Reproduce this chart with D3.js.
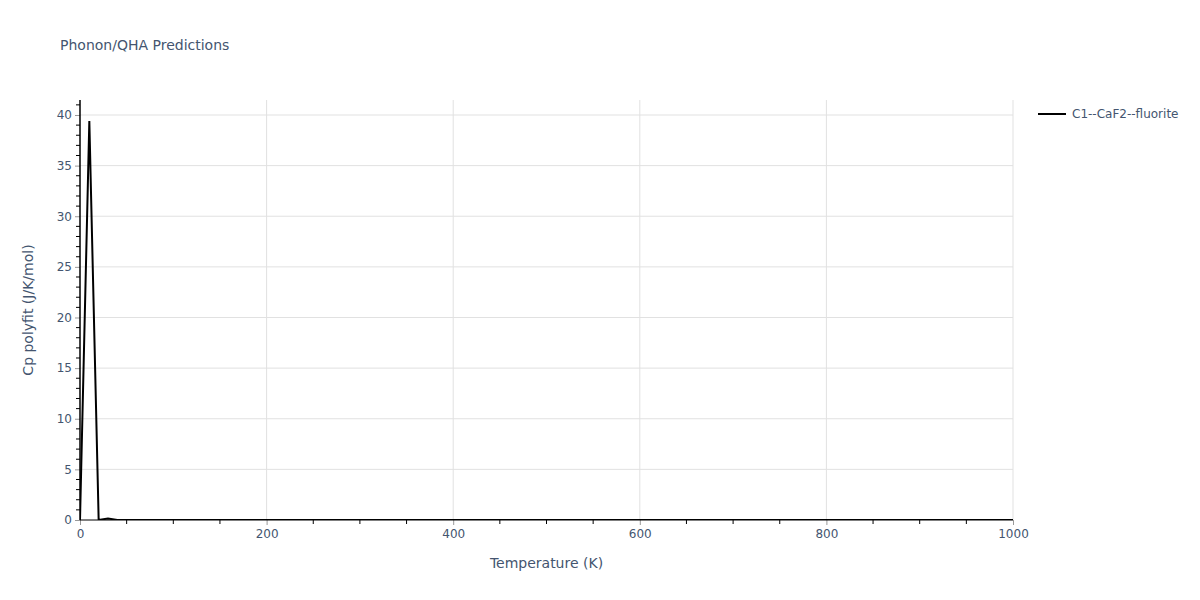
<!DOCTYPE html>
<html><head><meta charset="utf-8">
<script src="https://cdn.jsdelivr.net/npm/d3@7"></script>
<style>body{margin:0;background:#fff;} svg{display:block;}</style>
</head><body>
<svg id="c" width="1200" height="600"></svg>
<script>
const temps = [0, 10, 20, 30, 40, 50, 100, 200, 300, 400, 500, 600, 700, 800, 900, 1000];
const cpValues = [0, 39.4, 0, 0.15, 0, 0, 0, 0, 0, 0, 0, 0, 0, 0, 0, 0];
const seriesName = "C1--CaF2--fluorite";
const xTicks = [0, 200, 400, 600, 800, 1000];
const yTicks = [0, 5, 10, 15, 20, 25, 30, 35, 40];

const svg = d3.select("#c");
const L = 80, R = 1013, T = 100, B = 520;
const x = d3.scaleLinear().domain([0, 1000]).range([L, R]);
const y = d3.scaleLinear().domain([0, 41.48]).range([B, T]);
const font = "'DejaVu Sans', Verdana, sans-serif";
const txt = "#44556f";

svg.append("defs").append("clipPath").attr("id", "clip").append("rect")
  .attr("x", L).attr("y", T).attr("width", R - L).attr("height", B - T);

// gridlines
svg.append("g").selectAll("line").data(xTicks.filter(d => d > 0)).join("line")
  .attr("x1", d => x(d)).attr("x2", d => x(d)).attr("y1", T).attr("y2", B)
  .attr("stroke", "#e1e1e1").attr("stroke-width", 1);
svg.append("g").selectAll("line").data(yTicks.filter(d => d > 0)).join("line")
  .attr("x1", L).attr("x2", R).attr("y1", d => y(d)).attr("y2", d => y(d))
  .attr("stroke", "#e1e1e1").attr("stroke-width", 1);

// data line
const line = d3.line().x((d, i) => x(temps[i])).y(d => y(d));
svg.append("path").datum(cpValues).attr("d", line).attr("clip-path", "url(#clip)")
  .attr("fill", "none").attr("stroke", "#000").attr("stroke-width", 2);

// minor ticks
const xMinor = d3.range(50, 1000, 50).filter(d => d % 200 !== 0);
svg.append("g").selectAll("line").data(xMinor).join("line")
  .attr("x1", d => x(d)).attr("x2", d => x(d)).attr("y1", B).attr("y2", B + 4)
  .attr("stroke", "#000").attr("stroke-width", 1);
const yMinor = d3.range(1, 42, 1).filter(d => d % 5 !== 0);
svg.append("g").selectAll("line").data(yMinor).join("line")
  .attr("x1", L - 4).attr("x2", L).attr("y1", d => y(d)).attr("y2", d => y(d))
  .attr("stroke", "#000").attr("stroke-width", 1);

// axes with major ticks
const xAxis = svg.append("g").attr("transform", `translate(0,${B})`)
  .call(d3.axisBottom(x).tickValues(xTicks).tickSize(5).tickFormat(d3.format("d")));
const yAxis = svg.append("g").attr("transform", `translate(${L},0)`)
  .call(d3.axisLeft(y).tickValues(yTicks).tickSize(5).tickFormat(d3.format("d")));
[xAxis, yAxis].forEach(g => {
  g.select(".domain").remove();
  g.selectAll(".tick line").attr("stroke", "#999");
  g.selectAll(".tick text").attr("fill", txt).style("font-family", font).style("font-size", "12px");
});
xAxis.selectAll(".tick text").attr("dy", "0.71em").attr("y", 9);
yAxis.selectAll(".tick text").attr("x", -8);

// axis lines
svg.append("line").attr("x1", L).attr("x2", R).attr("y1", B).attr("y2", B).attr("stroke", "#000").attr("stroke-width", 1);
svg.append("line").attr("x1", L).attr("x2", L).attr("y1", T).attr("y2", B).attr("stroke", "#000").attr("stroke-width", 1.5);

// titles
svg.append("text").attr("x", 60).attr("y", 50).text("Phonon/QHA Predictions")
  .attr("fill", txt).style("font-family", font).style("font-size", "14px");
svg.append("text").attr("x", (L + R) / 2).attr("y", 568).attr("text-anchor", "middle")
  .text("Temperature (K)").attr("fill", txt).style("font-family", font).style("font-size", "14px");
svg.append("text").attr("transform", `translate(33,${(T + B) / 2}) rotate(-90)`).attr("text-anchor", "middle")
  .text("Cp polyfit (J/K/mol)").attr("fill", txt).style("font-family", font).style("font-size", "14px");

// legend
const lg = svg.append("g").attr("transform", "translate(1038,114)");
lg.append("line").attr("x1", 0).attr("x2", 28).attr("y1", 0).attr("y2", 0).attr("stroke", "#000").attr("stroke-width", 2);
lg.append("text").attr("x", 34).attr("y", 4).text(seriesName).attr("fill", txt)
  .style("font-family", font).style("font-size", "12px");
</script>
</body></html>
